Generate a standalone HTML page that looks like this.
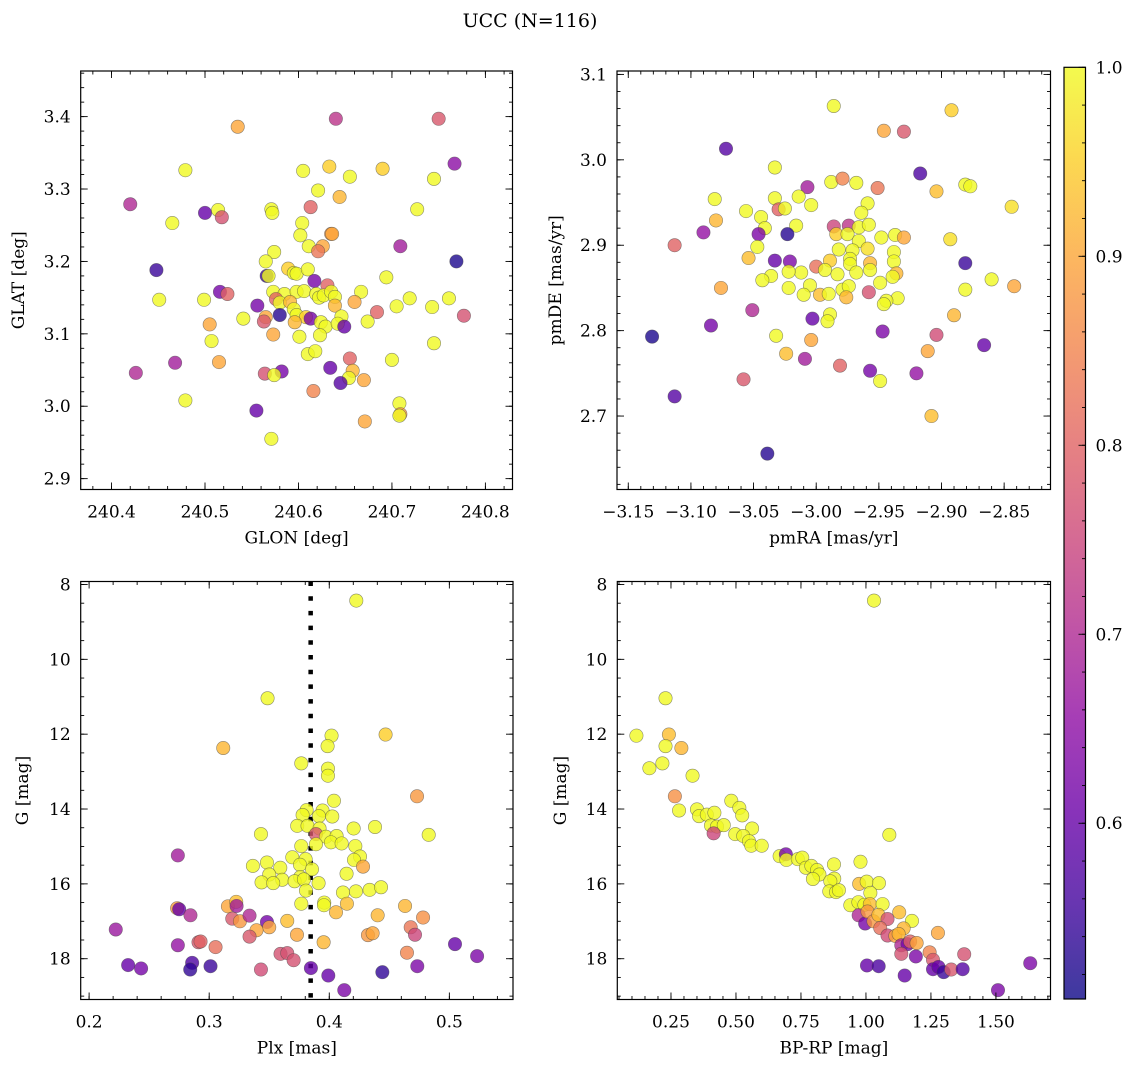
<!DOCTYPE html>
<html><head><meta charset="utf-8">
<style>
html,body{margin:0;padding:0;background:#fff;}
svg text{font-family:"DejaVu Serif","Liberation Serif",serif;fill:#000;}
</style></head>
<body>
<svg id="fig" width="1136" height="1067" viewBox="0 0 1136 1067" xmlns="http://www.w3.org/2000/svg">
<rect x="0" y="0" width="1136" height="1067" fill="#fff"/>
<text x="530" y="27" font-size="19" text-anchor="middle">UCC (N=116)</text>
<g id="plots"></g>
</svg>
<script>
// ---------- DATA ----------
const p1Glon = [240.640,240.750,240.535,240.479,240.605,240.633,240.690,240.655,240.745,240.767,240.621,240.644,240.420,240.500,240.514,240.518,240.571,240.572,240.613,240.727,240.465,240.604,240.602,240.635,240.636,240.611,240.626,240.621,240.709,240.574,240.565,240.448,240.769,240.566,240.568,240.589,240.595,240.598,240.610,240.617,240.631,240.694,240.516,240.524,240.451,240.499,240.573,240.585,240.598,240.606,240.619,240.622,240.627,240.635,240.639,240.667,240.576,240.580,240.591,240.639,240.660,240.719,240.761,240.705,240.743,240.556,240.595,240.598,240.608,240.613,240.580,240.565,240.563,240.596,240.624,240.629,240.646,240.642,240.649,240.674,240.684,240.777,240.541,240.505,240.507,240.573,240.601,240.623,240.610,240.618,240.745,240.655,240.700,240.468,240.515,240.426,240.564,240.582,240.574,240.634,240.658,240.654,240.645,240.670,240.479,240.616,240.555,240.708,240.709,240.708,240.671,240.571];
const p1Glat = [3.397,3.397,3.386,3.326,3.325,3.331,3.328,3.317,3.314,3.335,3.298,3.289,3.279,3.267,3.271,3.261,3.272,3.267,3.275,3.272,3.253,3.253,3.236,3.238,3.238,3.221,3.221,3.214,3.221,3.213,3.200,3.188,3.200,3.180,3.180,3.190,3.184,3.183,3.189,3.173,3.167,3.178,3.158,3.155,3.147,3.147,3.158,3.155,3.158,3.159,3.155,3.150,3.153,3.158,3.151,3.158,3.148,3.143,3.144,3.139,3.144,3.149,3.149,3.138,3.137,3.139,3.134,3.126,3.123,3.121,3.126,3.123,3.117,3.116,3.116,3.110,3.124,3.114,3.110,3.117,3.130,3.125,3.121,3.113,3.090,3.099,3.096,3.098,3.072,3.076,3.087,3.066,3.064,3.060,3.061,3.046,3.045,3.048,3.043,3.053,3.049,3.039,3.032,3.036,3.008,3.021,2.994,3.004,2.989,2.987,2.979,2.955];
const p1Prob = [0.72,0.78,0.9,1,1,0.95,0.95,1,1,0.65,1,0.92,0.7,0.6,1,0.77,1,1,0.8,1,1,1,1,0.88,0.9,1,0.9,0.83,0.68,1,1,0.55,0.52,0.55,1,0.95,1,1,1,0.62,0.8,1,0.62,0.8,1,1,1,1,1,1,1,1,1,1,1,1,0.8,1,0.92,0.92,0.9,1,1,1,1,0.62,1,1,0.95,0.62,0.53,0.9,0.78,0.92,1,1,1,1,0.6,1,0.8,0.77,1,0.9,1,0.9,1,1,1,1,1,0.8,1,0.68,0.9,0.7,0.77,0.62,1,0.6,0.92,1,0.58,0.9,1,0.85,0.6,1,0.88,1,0.9,1];

const p2PmRA = [-2.986,-2.892,-2.946,-2.930,-3.072,-3.033,-2.917,-2.988,-2.979,-2.968,-2.951,-2.904,-2.881,-2.877,-3.007,-3.081,-3.033,-3.014,-3.004,-3.030,-3.025,-2.844,-2.959,-2.964,-3.056,-3.080,-3.044,-3.041,-3.016,-3.090,-3.046,-3.023,-2.986,-2.974,-2.966,-2.958,-2.984,-2.975,-2.966,-2.948,-2.937,-2.930,-2.893,-3.113,-3.047,-2.982,-2.971,-2.959,-2.938,-3.054,-3.033,-3.021,-2.989,-2.973,-2.938,-2.881,-3.000,-2.993,-2.973,-2.957,-2.957,-2.968,-2.983,-3.012,-3.022,-3.036,-3.043,-2.936,-2.939,-2.860,-2.842,-3.076,-3.022,-3.005,-3.010,-2.997,-2.990,-2.979,-2.974,-2.976,-2.958,-2.949,-2.935,-2.944,-2.946,-2.881,-3.051,-2.989,-2.991,-3.003,-2.890,-3.084,-2.947,-3.131,-3.032,-3.004,-2.904,-2.866,-2.911,-3.024,-3.009,-2.981,-2.957,-2.920,-2.949,-3.058,-3.113,-2.908,-3.039];
const p2PmDE = [3.063,3.058,3.034,3.033,3.013,2.991,2.984,2.974,2.978,2.973,2.967,2.963,2.971,2.969,2.968,2.954,2.955,2.957,2.947,2.942,2.943,2.945,2.949,2.938,2.940,2.929,2.933,2.920,2.923,2.915,2.913,2.913,2.922,2.923,2.921,2.924,2.913,2.913,2.905,2.909,2.912,2.909,2.907,2.900,2.898,2.895,2.894,2.896,2.892,2.885,2.882,2.881,2.882,2.884,2.881,2.879,2.875,2.871,2.878,2.879,2.871,2.868,2.866,2.868,2.869,2.864,2.859,2.867,2.863,2.860,2.852,2.850,2.850,2.853,2.842,2.842,2.843,2.848,2.852,2.839,2.845,2.856,2.838,2.835,2.831,2.848,2.824,2.819,2.811,2.814,2.818,2.806,2.799,2.793,2.794,2.789,2.795,2.783,2.776,2.773,2.767,2.759,2.753,2.750,2.741,2.743,2.723,2.700,2.656];
const p2Prob = [1,0.95,0.9,0.78,0.58,1,0.57,1,0.85,1,0.83,0.93,1,1,0.68,1,1,1,1,0.8,1,0.97,1,1,1,0.92,1,1,1,0.66,0.63,0.53,0.75,0.72,1,1,0.95,1,1,1,1,0.9,0.97,0.8,1,1,1,0.97,1,0.93,0.6,0.63,0.95,1,1,0.55,0.82,1,1,0.92,1,1,1,1,1,1,1,0.92,1,1,0.9,0.9,1,1,1,0.93,1,1,1,0.92,0.77,1,1,1,1,1,0.7,1,1,0.6,0.92,0.62,0.63,0.52,1,0.9,0.76,0.6,0.9,0.93,0.68,0.8,0.62,0.66,1,0.78,0.58,0.93,0.53];

const p3Plx = [0.4225,0.3486,0.3117,0.4019,0.3986,0.4469,0.3767,0.3989,0.3989,0.4731,0.4039,0.3811,0.3944,0.4025,0.3914,0.3778,0.3733,0.3819,0.3919,0.3889,0.4203,0.4381,0.4828,0.3431,0.3972,0.4061,0.4014,0.4103,0.3889,0.3767,0.4217,0.4256,0.4206,0.3692,0.3803,0.3756,0.3856,0.4281,0.3481,0.3364,0.3592,0.3500,0.4144,0.3608,0.3758,0.3711,0.3436,0.3533,0.3789,0.3911,0.3806,0.4114,0.4222,0.4336,0.4431,0.2739,0.3767,0.3958,0.3956,0.4147,0.4056,0.4403,0.4631,0.4781,0.2733,0.2750,0.2844,0.3156,0.3225,0.3228,0.3192,0.3256,0.3336,0.3481,0.3500,0.3394,0.3336,0.3650,0.3731,0.3953,0.4322,0.4361,0.4678,0.4714,0.2222,0.2739,0.2911,0.2928,0.3053,0.3594,0.3650,0.3703,0.4647,0.5047,0.5231,0.2325,0.2433,0.2858,0.2842,0.3011,0.3431,0.3847,0.3992,0.4442,0.4733,0.4125];
const p3G = [8.43,11.04,12.37,12.04,12.32,12.01,12.78,12.92,13.11,13.66,13.78,14.03,14.04,14.20,14.19,14.16,14.45,14.45,14.52,14.67,14.52,14.48,14.69,14.67,14.74,14.72,14.89,14.92,14.94,14.99,14.99,15.27,15.36,15.29,15.34,15.49,15.61,15.54,15.43,15.52,15.57,15.75,15.73,15.89,15.82,15.93,15.96,15.98,15.88,15.98,16.18,16.23,16.20,16.16,16.09,15.24,16.53,16.50,16.57,16.53,16.76,16.84,16.59,16.90,16.65,16.68,16.84,16.60,16.48,16.59,16.93,17.00,16.85,17.02,17.16,17.24,17.41,16.99,17.36,17.56,17.37,17.32,17.16,17.36,17.22,17.64,17.56,17.54,17.69,17.87,17.85,18.04,17.84,17.61,17.93,18.17,18.26,18.11,18.29,18.20,18.29,18.25,18.45,18.36,18.20,18.84];
const p3Prob = [1,1,0.92,1,1,0.95,1,1,1,0.88,1,1,1,1,1,1,1,1,1,0.78,1,1,1,1,1,1,1,1,1,1,1,1,1,1,1,1,1,0.9,1,1,1,1,1,1,1,1,1,1,1,1,1,1,1,1,1,0.68,1,1,1,0.93,0.92,0.92,0.92,0.87,0.88,0.6,0.7,0.9,0.93,0.68,0.78,0.88,0.7,0.62,0.9,0.9,0.78,0.93,0.9,0.92,0.88,0.9,0.83,0.75,0.67,0.66,0.78,0.8,0.82,0.77,0.77,0.77,0.85,0.6,0.63,0.6,0.62,0.57,0.54,0.55,0.76,0.6,0.6,0.54,0.63,0.63];
const plxMedian = 0.3845;

const p4Color = [1.031,0.229,0.117,0.242,0.229,0.290,0.217,0.167,0.333,0.265,0.281,0.350,0.482,0.513,0.524,0.358,0.388,0.417,0.404,0.427,0.453,0.414,0.562,0.497,0.528,0.550,0.559,0.599,1.090,0.668,0.692,0.694,0.738,0.755,0.769,0.790,0.812,0.821,0.796,0.877,0.878,0.863,0.859,0.885,0.896,0.979,0.974,1.003,1.050,1.017,0.940,0.971,0.994,1.015,1.064,0.972,0.997,1.006,1.029,1.048,1.083,1.055,1.128,1.177,1.083,1.113,1.145,1.126,1.136,1.160,1.170,1.195,1.136,1.192,1.245,1.258,1.277,1.258,1.279,1.299,1.328,1.372,1.378,1.004,1.049,1.149,1.632,1.508];
const p4G = [8.43,11.04,12.04,12.01,12.32,12.37,12.78,12.91,13.11,13.66,14.04,14.01,13.78,13.97,14.17,14.19,14.15,14.10,14.44,14.47,14.43,14.65,14.52,14.67,14.72,14.86,14.98,14.98,14.69,15.26,15.21,15.36,15.34,15.30,15.57,15.52,15.63,15.75,15.87,15.48,15.86,15.93,16.20,16.22,16.17,15.41,16.00,15.94,15.98,16.24,16.57,16.49,16.56,16.54,16.54,16.84,17.06,16.74,17.00,16.83,16.94,17.18,16.76,16.99,17.38,17.39,17.19,17.34,17.64,17.61,17.54,17.58,17.87,17.94,17.83,18.03,17.31,18.28,18.22,18.36,18.29,18.28,17.88,18.18,18.20,18.45,18.12,18.84];
const p4Prob = [1,1,1,0.93,1,0.92,1,1,1,0.87,1,1,1,1,1,1,1,1,1,1,1,0.75,1,1,1,1,1,1,1,1,0.62,1,1,1,1,1,1,1,1,1,1,1,1,1,1,1,0.93,1,1,1,1,1,1,0.93,1,0.7,0.62,0.88,0.88,0.93,0.77,0.82,0.93,1,0.76,0.9,0.92,0.92,0.7,0.62,0.8,0.9,0.77,0.63,0.85,0.78,0.9,0.6,0.6,0.55,0.78,0.58,0.77,0.6,0.57,0.6,0.63,0.63];

const p1XTicks = [240.4,240.5,240.6,240.7,240.8];
const p1XLabels = ["240.4","240.5","240.6","240.7","240.8"];
const p1YTicks = [2.9,3.0,3.1,3.2,3.3,3.4];
const p1YLabels = ["2.9","3.0","3.1","3.2","3.3","3.4"];
const p2XTicks = [-3.15,-3.10,-3.05,-3.00,-2.95,-2.90,-2.85];
const p2XLabels = ["\u22123.15","\u22123.10","\u22123.05","\u22123.00","\u22122.95","\u22122.90","\u22122.85"];
const p2YTicks = [2.7,2.8,2.9,3.0,3.1];
const p2YLabels = ["2.7","2.8","2.9","3.0","3.1"];
const p3XTicks = [0.2,0.3,0.4,0.5];
const p3XLabels = ["0.2","0.3","0.4","0.5"];
const gTicks = [8,10,12,14,16,18];
const gLabels = ["8","10","12","14","16","18"];
const p4XTicks = [0.25,0.5,0.75,1.0,1.25,1.5];
const p4XLabels = ["0.25","0.50","0.75","1.00","1.25","1.50"];
const cbTicks = [0.6,0.7,0.8,0.9,1.0];
const cbLabels = ["0.6","0.7","0.8","0.9","1.0"];
const cbMin = 0.507, cbMax = 1.0;

// ---------- RENDER ----------
const NS = "http://www.w3.org/2000/svg";
const root = document.getElementById('plots');
function mk(tag, attrs, parent){
  const e = document.createElementNS(NS, tag);
  for (const k in attrs) e.setAttribute(k, attrs[k]);
  (parent||root).appendChild(e);
  return e;
}
const stops = ["#0d0887","#41049d","#6a00a8","#8f0da4","#b12a90","#cc4778","#e16462","#f2844b","#fca636","#fcce25","#f0f921"];
function hex(h){return [parseInt(h.substr(1,2),16),parseInt(h.substr(3,2),16),parseInt(h.substr(5,2),16)];}
function plasma(t){
  t=Math.max(0,Math.min(1,t));
  const f=t*10, i=Math.min(9,Math.floor(f)), u=f-i;
  const a=hex(stops[i]), b=hex(stops[i+1]);
  return "rgb("+a.map((v,k)=>Math.round(v+(b[k]-v)*u)).join(",")+")";
}
function cmap(c){return plasma((c-cbMin)/(cbMax-cbMin));}
const FS = 17;

function panel(cfg){
  const g = mk('g',{});
  
  
  const sx = v => cfg.L + (v-cfg.xmin)/(cfg.xmax-cfg.xmin)*(cfg.R-cfg.L);
  const sy = cfg.invert ? (v => cfg.T + (v-cfg.ymin)/(cfg.ymax-cfg.ymin)*(cfg.B-cfg.T))
                        : (v => cfg.B - (v-cfg.ymin)/(cfg.ymax-cfg.ymin)*(cfg.B-cfg.T));
  const clipId = 'clip-'+cfg.name;
  const cp = mk('clipPath',{id:clipId},g);
  mk('rect',{x:cfg.L,y:cfg.T,width:cfg.R-cfg.L,height:cfg.B-cfg.T},cp);
  const marks = mk('g',{'clip-path':'url(#'+clipId+')'},g);
  
  
  if (cfg.vline!==undefined){
    const ln = mk('line',{x1:sx(cfg.vline),x2:sx(cfg.vline),y1:cfg.T,y2:cfg.B,stroke:'#000','stroke-width':4.5,'stroke-dasharray':'4.5 10.2'},marks);
    
    
  }
  for (let i=0;i<cfg.xs.length;i++){
    const c = mk('circle',{cx:sx(cfg.xs[i]).toFixed(2),cy:sy(cfg.ys[i]).toFixed(2),r:6.7,fill:cmap(cfg.cs[i]),'fill-opacity':0.8,stroke:'#444','stroke-opacity':0.6,'stroke-width':0.6},marks);
    
    
  }
  const tk = mk('g',{stroke:'#000','stroke-width':0.9},g);
  const MJ=7, MN=3.5;
  function minorRange(min,max,step){const a=[];for(let v=Math.ceil(min/step-1e-6)*step; v<=max+1e-9; v+=step) a.push(v);return a;}
  minorRange(cfg.xmin,cfg.xmax,cfg.xminor).forEach(v=>{const x=sx(v);
    mk('line',{x1:x,x2:x,y1:cfg.B,y2:cfg.B-MN},tk);mk('line',{x1:x,x2:x,y1:cfg.T,y2:cfg.T+MN},tk);});
  minorRange(cfg.ymin,cfg.ymax,cfg.yminor).forEach(v=>{const y=sy(v);
    mk('line',{x1:cfg.L,x2:cfg.L+MN,y1:y,y2:y},tk);mk('line',{x1:cfg.R,x2:cfg.R-MN,y1:y,y2:y},tk);});
  cfg.xt.forEach((v,i)=>{const x=sx(v);
    mk('line',{x1:x,x2:x,y1:cfg.B,y2:cfg.B-MJ},tk);mk('line',{x1:x,x2:x,y1:cfg.T,y2:cfg.T+MJ},tk);
    const t=mk('text',{x:x,y:cfg.B+28,'font-size':FS,'text-anchor':'middle'},g);t.textContent=cfg.xl[i];
    
    
  });
  cfg.yt.forEach((v,i)=>{const y=sy(v);
    mk('line',{x1:cfg.L,x2:cfg.L+MJ,y1:y,y2:y},tk);mk('line',{x1:cfg.R,x2:cfg.R-MJ,y1:y,y2:y},tk);
    const t=mk('text',{x:cfg.L-10,y:y+6,'font-size':FS,'text-anchor':'end'},g);t.textContent=cfg.yl[i];
    
    
  });
  const fr = mk('rect',{x:cfg.L,y:cfg.T,width:cfg.R-cfg.L,height:cfg.B-cfg.T,fill:'none',stroke:'#000','stroke-width':1.2},g);
  
  
  const xt = mk('text',{x:(cfg.L+cfg.R)/2,y:cfg.B+54,'font-size':FS,'text-anchor':'middle'},g);
  xt.textContent = cfg.xlabel;
  
  
  const yx = cfg.ylx, yy=(cfg.T+cfg.B)/2;
  const yt = mk('text',{x:yx,y:yy,'font-size':FS,'text-anchor':'middle',transform:'rotate(-90 '+yx+' '+yy+')'},g);
  yt.textContent = cfg.ylabel;
  
  
}

panel({name:'glon-glat-panel',L:80.7,R:512.5,T:71,B:489.5,xmin:240.367,xmax:240.829,ymin:2.885,ymax:3.463,
  xt:p1XTicks,xl:p1XLabels,yt:p1YTicks,yl:p1YLabels,xminor:0.02,yminor:0.02,xs:p1Glon,ys:p1Glat,cs:p1Prob,
  xlabel:'GLON [deg]',ylabel:'GLAT [deg]',ylx:24});
panel({name:'pm-panel',L:617,R:1050.5,T:71,B:489.5,xmin:-3.159,xmax:-2.813,ymin:2.614,ymax:3.104,
  xt:p2XTicks,xl:p2XLabels,yt:p2YTicks,yl:p2YLabels,xminor:0.01,yminor:0.02,xs:p2PmRA,ys:p2PmDE,cs:p2Prob,
  xlabel:'pmRA [mas/yr]',ylabel:'pmDE [mas/yr]',ylx:561});
panel({name:'plx-g-panel',L:80.7,R:513,T:581.5,B:999.5,xmin:0.193,xmax:0.553,ymin:7.92,ymax:19.09,invert:true,
  xt:p3XTicks,xl:p3XLabels,yt:gTicks,yl:gLabels,xminor:0.02,yminor:0.5,xs:p3Plx,ys:p3G,cs:p3Prob,vline:plxMedian,
  xlabel:'Plx [mas]',ylabel:'G [mag]',ylx:28});
panel({name:'cmd-panel',L:617.3,R:1050.5,T:581.5,B:999.5,xmin:0.0435,xmax:1.710,ymin:7.92,ymax:19.09,invert:true,
  xt:p4XTicks,xl:p4XLabels,yt:gTicks,yl:gLabels,xminor:0.05,yminor:0.5,xs:p4Color,ys:p4G,cs:p4Prob,
  xlabel:'BP-RP [mag]',ylabel:'G [mag]',ylx:566});

// colorbar
(function(){
  const L=1064,R=1085.5,T=67.3,B=999;
  const defs = mk('defs',{});
  const lg = mk('linearGradient',{id:'cbgrad',x1:0,y1:1,x2:0,y2:0},defs);
  for(let i=0;i<=20;i++){mk('stop',{offset:i/20,'stop-color':plasma(i/20),'stop-opacity':0.8},lg);}
  const g = mk('g',{});
  
  
  mk('rect',{x:L,y:T,width:R-L,height:B-T,fill:'url(#cbgrad)'},g);
  const sy = v => B - (v-cbMin)/(cbMax-cbMin)*(B-T);
  for(let v=0.52; v<=1.0001; v+=0.02){const y=sy(v); mk('line',{x1:R,x2:R-3.5,y1:y,y2:y,stroke:'#000','stroke-width':0.9},g);}
  cbTicks.forEach((v,i)=>{const y=sy(v);
    mk('line',{x1:R,x2:R-7,y1:y,y2:y,stroke:'#000','stroke-width':0.9},g);
    const t=mk('text',{x:R+10,y:y+6,'font-size':FS},g);t.textContent=cbLabels[i];
    
    
  });
  mk('rect',{x:L,y:T,width:R-L,height:B-T,fill:'none',stroke:'#000','stroke-width':1.2},g);
})();
</script>
</body></html>
